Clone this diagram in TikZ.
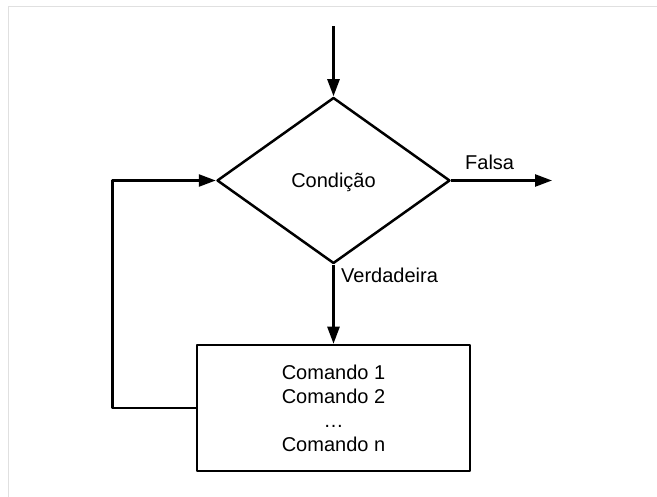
\documentclass[tikz,border=0pt]{standalone}
\usepackage{fontspec}
\setmainfont{Liberation Sans}
\usetikzlibrary{shapes.geometric,arrows.meta}

\begin{document}
\begin{tikzpicture}[x=1pt,y=-1pt,
  flow/.style={line width=2.5pt,line join=round},
  arr/.style={flow,-{Triangle[length=17pt,width=12pt]}},
  txt/.style={font=\fontsize{20}{24}\selectfont},
  decision/.style={diamond,draw,flow,inner sep=0pt,
    minimum width=233pt,minimum height=166pt,txt,
    text height=14pt,text depth=0pt},
  block/.style={rectangle,draw,flow,minimum width=273pt,
    minimum height=126pt,align=center,txt}]
  % canvas and frame
  \useasboundingbox (0,0) rectangle (657,497);
  \fill[white] (0,0) rectangle (657,497);
  \draw[line width=1pt,color=black!12] (8.5,497) -- (8.5,6.5) -- (657,6.5);

  % nodes
  \node[decision] (cond) at (333.5,180.5) {Condição};
  \node[block] (body) at (333.5,408) {Comando 1\\Comando 2\\…\\Comando n};

  \coordinate (start) at (333.5,26.5);
  \coordinate (out) at (552,180.5);
  \coordinate (loop) at (112.5,408);

  % connectors
  \draw[arr] (start) -- (cond.north);
  \draw[arr] (cond.east) -- (out);
  \draw[arr] (cond.south) -- (body.north);
  \draw[arr] (body.west) -- (loop) |- (cond.west);

  % labels
  \node[txt,anchor=base west,inner sep=0pt] (lfalse) at (465,169.3) {Falsa};
  \node[txt,anchor=base west,inner sep=0pt] (ltrue) at (341,283) {Verdadeira};
\end{tikzpicture}
\end{document}
